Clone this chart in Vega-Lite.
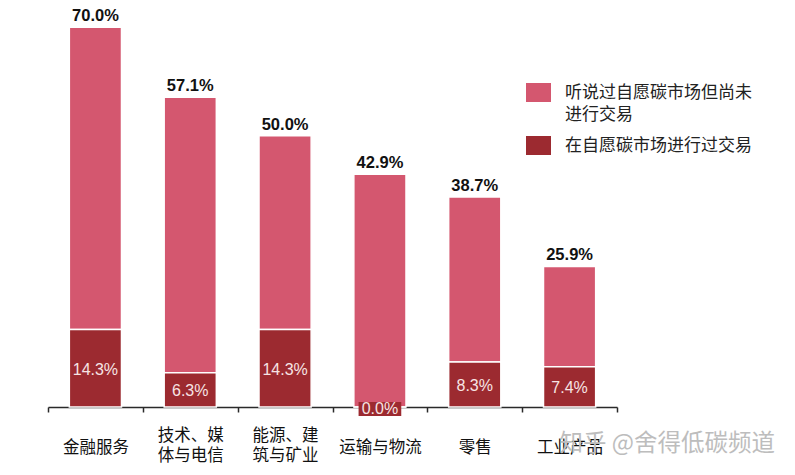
{
  "$schema": "https://vega.github.io/schema/vega-lite/v6.json",
  "autosize": {"type": "none"},
  "padding": {"left": 48, "top": 0, "right": 178, "bottom": 68},
  "width": 569,
  "height": 407,
  "background": "white",
  "title": {
    "text": "知乎 @舍得低碳频道",
    "orient": "bottom",
    "anchor": "end",
    "frame": "group",
    "fontSize": 23.5,
    "fontWeight": "normal",
    "font": "Noto Sans CJK SC",
    "color": "#bdbdbd",
    "offset": 0,
    "dx": 158,
    "dy": -32
  },
  "data": {
    "values": [
      {"category": "金融服务", "series": "听说过自愿碳市场但尚未进行交易", "value": 0.557},
      {"category": "金融服务", "series": "在自愿碳市场进行过交易", "value": 0.143},
      {"category": "技术、媒体与电信", "series": "听说过自愿碳市场但尚未进行交易", "value": 0.508},
      {"category": "技术、媒体与电信", "series": "在自愿碳市场进行过交易", "value": 0.063},
      {"category": "能源、建筑与矿业", "series": "听说过自愿碳市场但尚未进行交易", "value": 0.357},
      {"category": "能源、建筑与矿业", "series": "在自愿碳市场进行过交易", "value": 0.143},
      {"category": "运输与物流", "series": "听说过自愿碳市场但尚未进行交易", "value": 0.429},
      {"category": "运输与物流", "series": "在自愿碳市场进行过交易", "value": 0.0},
      {"category": "零售", "series": "听说过自愿碳市场但尚未进行交易", "value": 0.304},
      {"category": "零售", "series": "在自愿碳市场进行过交易", "value": 0.083},
      {"category": "工业产品", "series": "听说过自愿碳市场但尚未进行交易", "value": 0.185},
      {"category": "工业产品", "series": "在自愿碳市场进行过交易", "value": 0.074}
    ]
  },
  "encoding": {
    "x": {
      "field": "category",
      "type": "nominal",
      "scale": {
        "domain": ["金融服务", "技术、媒体与电信", "能源、建筑与矿业", "运输与物流", "零售", "工业产品"],
        "paddingInner": 0,
        "paddingOuter": 0
      },
      "axis": {
        "title": null,
        "labelAngle": 0,
        "tickBand": "extent",
        "domainColor": "#2a2a2a",
        "domainWidth": 1.5,
        "tickColor": "#2a2a2a",
        "tickWidth": 1.5,
        "tickSize": 5,
        "labelFont": "Noto Sans CJK SC",
        "labelFontSize": 16.5,
        "labelColor": "#111111",
        "labelBaseline": "middle",
        "labelPadding": {"expr": "indexof(datum.label, '、') >= 0 ? 23 : 35"},
        "labelLineHeight": 20.5,
        "labelExpr": "datum.label == '技术、媒体与电信' ? ['技术、媒', '体与电信'] : datum.label == '能源、建筑与矿业' ? ['能源、建', '筑与矿业'] : datum.label"
      }
    }
  },
  "layer": [
    {
      "mark": {"type": "bar", "width": {"band": 0.55}, "stroke": "white", "strokeWidth": 1.5},
      "encoding": {
        "y": {"field": "value", "type": "quantitative", "stack": "zero", "scale": {"domain": [0, 0.75], "nice": false, "zero": true}, "axis": null},
        "color": {
          "field": "series",
          "type": "nominal",
          "scale": {
            "domain": ["听说过自愿碳市场但尚未进行交易", "在自愿碳市场进行过交易"],
            "range": ["#d4576f", "#9c2a30"]
          },
          "legend": {
            "orient": "none",
            "legendX": 478,
            "legendY": 80,
            "title": null,
            "padding": 0,
            "symbolType": "M-1,-0.76L1,-0.76L1,0.76L-1,0.76Z",
            "symbolSize": 625,
            "symbolStrokeWidth": 0,
            "symbolOpacity": 1,
            "labelFont": "Noto Sans CJK SC",
            "labelFontSize": 17,
            "labelColor": "#222222",
            "labelOffset": 14,
            "labelLimit": 300,
            "rowPadding": 10,
            "labelExpr": "datum.label == '听说过自愿碳市场但尚未进行交易' ? ['听说过自愿碳市场但尚未', '进行交易'] : datum.label",
            "encoding": {"labels": {"lineHeight": {"value": 22}}}
          }
        },
        "order": {"field": "series", "sort": "descending"}
      }
    },
    {
      "transform": [{"filter": "datum.series == '在自愿碳市场进行过交易' && datum.value == 0"}],
      "mark": {"type": "bar", "width": {"band": 0.45}, "color": "#9c2a30"},
      "encoding": {
        "y": {"datum": 0.0092, "type": "quantitative"},
        "y2": {"datum": -0.0165}
      }
    },
    {
      "transform": [{"filter": "datum.series == '在自愿碳市场进行过交易'"}],
      "mark": {"type": "text", "font": "Liberation Sans", "fontSize": 16, "color": "#f7e4e4", "baseline": "middle", "dy": 1.5},
      "encoding": {
        "y": {"field": "value", "type": "quantitative", "stack": "zero", "bandPosition": 0.5},
        "text": {"field": "value", "type": "quantitative", "format": ".1%"}
      }
    },
    {
      "transform": [{"aggregate": [{"op": "sum", "field": "value", "as": "total"}], "groupby": ["category"]}],
      "mark": {"type": "text", "font": "Liberation Sans", "fontSize": 16.5, "fontWeight": "bold", "color": "#111111", "baseline": "alphabetic", "dy": -6},
      "encoding": {
        "y": {"field": "total", "type": "quantitative"},
        "text": {"field": "total", "type": "quantitative", "format": ".1%"}
      }
    }
  ],
  "config": {
    "view": {"stroke": null}
  }
}
